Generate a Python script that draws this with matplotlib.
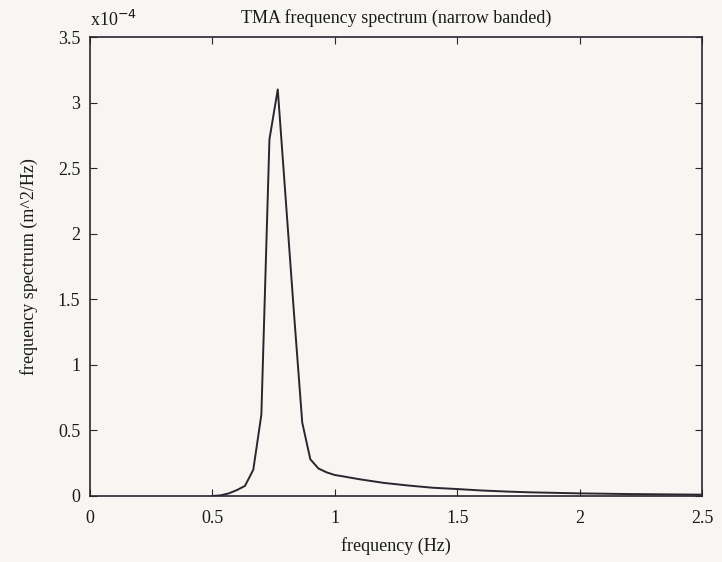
import matplotlib
matplotlib.use("Agg")
import matplotlib.pyplot as plt
import numpy as np

# Frequency (Hz) and spectrum values (x1e-4 m^2/Hz)
freq = [0.5, 0.533, 0.567, 0.6, 0.633, 0.667, 0.7, 0.733, 0.767, 0.8, 0.833,
        0.867, 0.9, 0.933, 0.967, 1.0, 1.033, 1.1, 1.2, 1.3, 1.4, 1.5, 1.6,
        1.7, 1.8, 1.9, 2.0, 2.2, 2.5]
spec = [0.0, 0.005, 0.02, 0.045, 0.077, 0.2, 0.62, 2.72, 3.1, 2.25, 1.40,
        0.56, 0.28, 0.21, 0.18, 0.16, 0.15, 0.128, 0.10, 0.08, 0.063, 0.053,
        0.042, 0.034, 0.028, 0.024, 0.02, 0.015, 0.01]

xticks = [0, 0.5, 1, 1.5, 2, 2.5]
xticklabels = ["0", "0.5", "1", "1.5", "2", "2.5"]
yticks = [0, 0.5, 1, 1.5, 2, 2.5, 3, 3.5]
yticklabels = ["0", "0.5", "1", "1.5", "2", "2.5", "3", "3.5"]

plt.rcParams['font.family'] = ['Liberation Serif', 'DejaVu Serif']
fig = plt.figure(figsize=(7.22, 5.62), dpi=100, facecolor='#f7f6f2')
ax = fig.add_axes([90/722, 1-496/562, (702-90)/722, (496-37)/562])
ax.set_facecolor('#f7f6f2')

ax.plot(np.array(freq), np.array(spec), color='#2a2530', lw=1.4)
ax.set_xlim(0, 2.5)
ax.set_ylim(0, 3.5)
ax.set_xticks(xticks)
ax.set_xticklabels(xticklabels)
ax.set_yticks(yticks)
ax.set_yticklabels(yticklabels)
ax.tick_params(direction='in', length=5, top=True, right=True,
               labelsize=13, color='#2a2530', labelcolor='#1a1a1a')
ax.tick_params(axis='x', pad=10)
ax.tick_params(axis='y', pad=7)
for s in ax.spines.values():
    s.set_color('#2a2530')
    s.set_linewidth(1.2)

ax.set_title("TMA frequency spectrum (narrow banded)", fontsize=13, pad=10,
             color='#1a1a1a')
ax.set_xlabel("frequency (Hz)", fontsize=13, labelpad=7, color='#1a1a1a')
ax.set_ylabel("frequency spectrum (m^2/Hz)", fontsize=13, labelpad=14,
              color='#1a1a1a')
ax.text(-0.0, 1.015, r"x10$^{-4}$", transform=ax.transAxes, fontsize=13,
        ha='left', va='bottom', color='#1a1a1a')

fig.savefig("out.png", dpi=100, facecolor=fig.get_facecolor())
